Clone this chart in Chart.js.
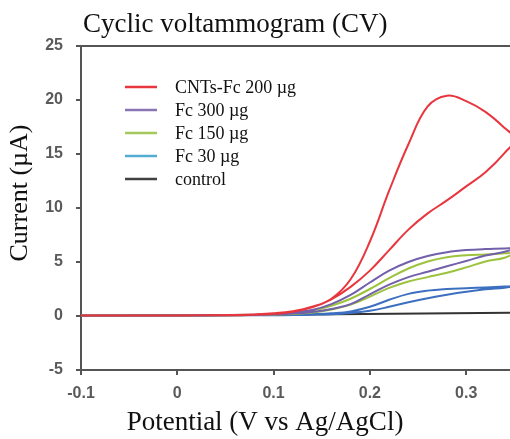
<!DOCTYPE html>
<html>
<head>
<meta charset="utf-8">
<script src="https://cdn.jsdelivr.net/npm/chart.js@4"></script>
<style>html,body{margin:0;background:#fff}</style>
</head>
<body>
<canvas id="cv" width="510" height="439"></canvas>
<script>
// CV loops. Shared potential grid (V vs Ag/AgCl);
// the last point is the switching potential, just past the cropped right edge.
var potentials = [-0.1, 0, 0.06, 0.08, 0.1, 0.12, 0.14, 0.16, 0.18, 0.2, 0.22, 0.24, 0.26, 0.28, 0.3, 0.32, 0.34, 0.35];

var seriesNames = ['CNTs-Fc 200 µg', 'Fc 300 µg', 'Fc 150 µg', 'Fc 30 µg', 'control'];

// forward (anodic) and return scans, uA
var cntsFwd  = [0.05, 0.05, 0.1, 0.15, 0.25, 0.45, 0.85, 1.6, 3.4, 6.9, 11.6, 15.9, 19.4, 20.4, 19.9, 18.9, 17.4, 16.4];
var cntsRev  = [0.05, 0.05, 0.08, 0.12, 0.2, 0.4, 0.8, 1.55, 2.7, 4.2, 6.1, 8.0, 9.5, 10.7, 12.0, 13.3, 15.1, 16.4];
var fc300Fwd = [0.05, 0.05, 0.08, 0.1, 0.18, 0.32, 0.55, 1.1, 1.95, 3.1, 4.2, 5.0, 5.55, 5.9, 6.1, 6.2, 6.25, 6.25];
var fc300Rev = [0.05, 0.05, 0.07, 0.1, 0.14, 0.22, 0.38, 0.65, 1.1, 2.0, 2.9, 3.6, 4.1, 4.6, 5.1, 5.6, 5.95, 6.25];
var fc150Fwd = [0.05, 0.05, 0.08, 0.1, 0.16, 0.28, 0.5, 0.95, 1.6, 2.5, 3.5, 4.4, 5.05, 5.45, 5.62, 5.7, 5.8, 5.85];
var fc150Rev = [0.05, 0.05, 0.07, 0.09, 0.12, 0.18, 0.32, 0.6, 1.05, 1.8, 2.6, 3.2, 3.6, 4.0, 4.5, 5.05, 5.4, 5.85];
var fc30Fwd  = [0.05, 0.05, 0.06, 0.07, 0.09, 0.12, 0.17, 0.25, 0.42, 0.85, 1.5, 2.05, 2.35, 2.5, 2.58, 2.65, 2.72, 2.75];
var fc30Rev  = [0.05, 0.05, 0.06, 0.06, 0.07, 0.09, 0.12, 0.17, 0.28, 0.48, 0.85, 1.28, 1.65, 1.97, 2.25, 2.48, 2.62, 2.75];
var controlE = [-0.1, 0.1, 0.35];
var controlI = [0.03, 0.12, 0.3];

var xTicks = [-0.1, 0, 0.1, 0.2, 0.3];
var yTicks = [-5, 0, 5, 10, 15, 20, 25];

var lineColors   = ['#e8363f', '#7260ab', '#9cc23e', '#3d6fc0', '#333333'];
var legendColors = ['#e8363f', '#8b74b4', '#a4c859', '#55acd2', '#404040'];

function loop(fwd, rev) {
    var pts = potentials.map(function (e, i) { return { x: e, y: fwd[i] }; });
    for (var i = potentials.length - 2; i >= 0; i--) pts.push({ x: potentials[i], y: rev[i] });
    return pts;
}

var loops = [
    loop(cntsFwd, cntsRev),
    loop(fc300Fwd, fc300Rev),
    loop(fc150Fwd, fc150Rev),
    loop(fc30Fwd, fc30Rev),
    controlE.map(function (e, i) { return { x: e, y: controlI[i] }; })
];

var AXIS = '#555555';
var TICKFONT = { family: '"Liberation Sans", Arial, sans-serif', size: 16, weight: 'bold' };

// title, axis titles and the in-plot legend sit off-centre in the source, so draw them here
var textPlugin = {
    id: 'texts',
    afterDraw: function (chart) {
        var ctx = chart.ctx;
        ctx.save();
        ctx.fillStyle = '#111';
        ctx.textBaseline = 'middle';
        ctx.font = '27px "Liberation Serif", "Times New Roman", serif';
        ctx.textAlign = 'left';
        ctx.fillText('Cyclic voltammogram (CV)', 83, 25);
        ctx.textAlign = 'center';
        ctx.fillText('Potential (V vs Ag/AgCl)', 265, 423);
        ctx.save();
        ctx.translate(20, 193);
        ctx.rotate(-Math.PI / 2);
        ctx.font = '26px "Liberation Serif", "Times New Roman", serif';
        ctx.fillText('Current (µA)', 0, 0);
        ctx.restore();

        ctx.font = '18px "Liberation Serif", "Times New Roman", serif';
        ctx.textAlign = 'left';
        chart.data.datasets.forEach(function (ds, i) {
            var y = 87 + i * 23;
            ctx.strokeStyle = legendColors[i];
            ctx.lineWidth = 2.5;
            ctx.beginPath(); ctx.moveTo(125, y); ctx.lineTo(157, y); ctx.stroke();
            ctx.fillStyle = '#111';
            ctx.fillText(ds.label, 175, y + 1);
        });
        ctx.restore();
    }
};

new Chart(document.getElementById('cv'), {
    type: 'scatter',
    data: {
        datasets: loops.map(function (pts, i) {
            return {
                label: seriesNames[i], data: pts, showLine: true,
                borderColor: lineColors[i], backgroundColor: lineColors[i],
                borderWidth: 2, pointRadius: 0, tension: 0.4
            };
        })
    },
    plugins: [textPlugin],
    options: {
        responsive: false, animation: false,
        layout: { padding: { top: 46, right: 0, left: 0, bottom: 0 } },
        plugins: { legend: { display: false }, title: { display: false }, tooltip: { enabled: false } },
        scales: {
            x: {
                type: 'linear', min: -0.1, max: 0.3455,
                afterBuildTicks: function (s) { s.ticks = xTicks.map(function (v) { return { value: v }; }); },
                afterFit: function (s) { s.height = 69; },
                ticks: { color: '#5a5a5a', font: TICKFONT, padding: 9, maxRotation: 0,
                         callback: function (v) { return String(Math.round(v * 10) / 10); } },
                grid: { drawOnChartArea: false, tickLength: 5, color: AXIS, lineWidth: 2 },
                border: { color: AXIS, width: 2 }
            },
            xTop: {
                type: 'linear', position: 'top', min: -0.1, max: 0.3455,
                afterFit: function (s) { s.height = 0; },
                ticks: { display: false }, grid: { display: false },
                border: { color: AXIS, width: 2 }
            },
            y: {
                min: -5, max: 25,
                afterBuildTicks: function (s) { s.ticks = yTicks.map(function (v) { return { value: v }; }); },
                afterFit: function (s) { s.width = 81; },
                ticks: { color: '#5a5a5a', font: TICKFONT, padding: 13 },
                grid: { drawOnChartArea: false, tickLength: 5, color: AXIS, lineWidth: 2 },
                border: { color: AXIS, width: 2 }
            }
        }
    }
});
</script>
</body>
</html>
